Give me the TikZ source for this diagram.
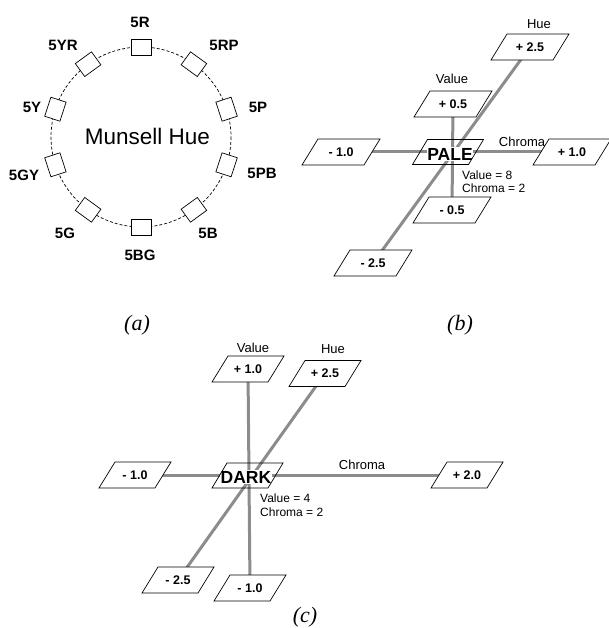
\documentclass[tikz,border=0pt]{standalone}
\usepackage{fontspec}
\setmainfont{Liberation Sans}
\newfontfamily\capfont{Liberation Serif}
\usetikzlibrary{backgrounds}
\definecolor{axisgray}{RGB}{140,140,140}
\newcommand\pgram[5]{% name, x, y, text, half side width
  \filldraw[pshape] (#2-#5+8,#3-13) -- (#2+#5+8,#3-13) -- (#2+#5-8,#3+13) -- (#2-#5-8,#3+13) -- cycle;
  \node[ptext] (#1) at (#2,#3) {#4};}
\newcommand\cgram[6]{% name, x, y, text, text x, text y
  \node[ctext] (#1) at (#5,#6) {#4};
  \draw[cshape] (#2-28+7.5,#3-12.5) -- (#2+28+7.5,#3-12.5) -- (#2+28-7.5,#3+12.5) -- (#2-28-7.5,#3+12.5) -- cycle;}
\begin{document}
\begin{tikzpicture}[x=1pt,y=-1pt,
  hbox/.style={draw, fill=white, line width=0.7pt, minimum width=20pt, minimum height=16pt, inner sep=0pt},
  hlab/.style={font=\fontsize{15}{15}\selectfont\bfseries, inner sep=0pt},
  ring/.style={draw, dash pattern=on 3pt off 2pt, line width=0.7pt},
  pshape/.style={draw=black, fill=white, line width=0.7pt},
  cshape/.style={draw=black, line width=0.7pt},
  ptext/.style={font=\fontsize{12.5}{12.5}\selectfont\bfseries, inner sep=0pt},
  ctext/.style={font=\fontsize{17.5}{17.5}\selectfont\bfseries, inner sep=0.5pt, fill=white},
  axis/.style={draw=axisgray, line width=3pt},
  alab/.style={font=\fontsize{13}{13}\selectfont, inner sep=0pt},
  note/.style={font=\fontsize{12}{13.5}\selectfont, inner sep=0pt, align=left, anchor=west},
  capt/.style={font=\capfont\itshape\fontsize{22}{22}\selectfont, inner sep=0pt}]
\useasboundingbox (0,0) rectangle (608,628);

% ---------- (a) Munsell hue ring ----------
\draw[ring] (141,137) circle[radius=90];
\foreach \a/\n in {90/R,54/RP,18/P,-18/PB,-54/B,-90/BG,-126/G,-162/GY,162/Y,126/YR}
  \node[hbox, rotate=\a-90] (h\n) at ({141+90*cos(\a)},{137-90*sin(\a)}) {};
\node[hlab] (lR)  at (140,22)  {5R};
\node[hlab] (lRP) at (224,45)  {5RP};
\node[hlab] (lP)  at (258,107) {5P};
\node[hlab] (lPB) at (262,173) {5PB};
\node[hlab] (lB)  at (208,233) {5B};
\node[hlab] (lBG) at (140,255) {5BG};
\node[hlab] (lG)  at (65,233)  {5G};
\node[hlab] (lGY) at (24,175)  {5GY};
\node[hlab] (lY)  at (32,107)  {5Y};
\node[hlab] (lYR) at (63,45)   {5YR};
\node[font=\fontsize{22.5}{22.5}\selectfont, inner sep=0pt] (mh) at (147.5,136) {Munsell Hue};
\node[capt] (capa) at (137,325) {(a)};

% ---------- (b) PALE ----------
\pgram{bhp}{530}{47}{+ 2.5}{31}
\pgram{bvp}{453}{104}{+ 0.5}{31}
\pgram{bcm}{341}{152}{- 1.0}{31}
\pgram{bcp}{572}{152}{+ 1.0}{31}
\pgram{bvm}{452}{210}{- 0.5}{31}
\pgram{bhm}{373}{263}{- 2.5}{31}
\cgram{pale}{448}{152}{PALE}{450}{154}
\begin{pgfonlayer}{background}
  \draw[axis] (bcm) -- (bcp);
  \draw[axis] (bvp) -- (bvm);
  \draw[axis] (bhp) -- (bhm);
\end{pgfonlayer}
\node[alab] (bhue) at (539,24) {Hue};
\node[alab] (bval) at (452,79) {Value};
\node[alab] (bchr) at (522,142) {Chroma};
\node[note] (bnote) at (462,181.5) {Value = 8\\Chroma = 2};
\node[capt] (capb) at (460,325) {(b)};

% ---------- (c) DARK ----------
\pgram{cvp}{248}{369}{+ 1.0}{28}
\pgram{chp}{325}{373.5}{+ 2.5}{28}
\pgram{ccm}{135}{475}{- 1.0}{28}
\pgram{ccp}{467}{475}{+ 2.0}{28}
\pgram{chm}{178}{580}{- 2.5}{28}
\pgram{cvm}{250}{588}{- 1.0}{28}
\cgram{dark}{247.5}{475.5}{DARK}{246}{477}
\begin{pgfonlayer}{background}
  \draw[axis] (ccm) -- (ccp);
  \draw[axis] (cvp) -- (cvm);
  \draw[axis] (chp) -- (chm);
\end{pgfonlayer}
\node[alab] (cval) at (253,348) {Value};
\node[alab] (chue) at (333,349) {Hue};
\node[alab] (cchr) at (362,465) {Chroma};
\node[note] (cnote) at (260,505) {Value = 4\\Chroma = 2};
\node[capt] (capc) at (305,617) {(c)};
\end{tikzpicture}
\end{document}
